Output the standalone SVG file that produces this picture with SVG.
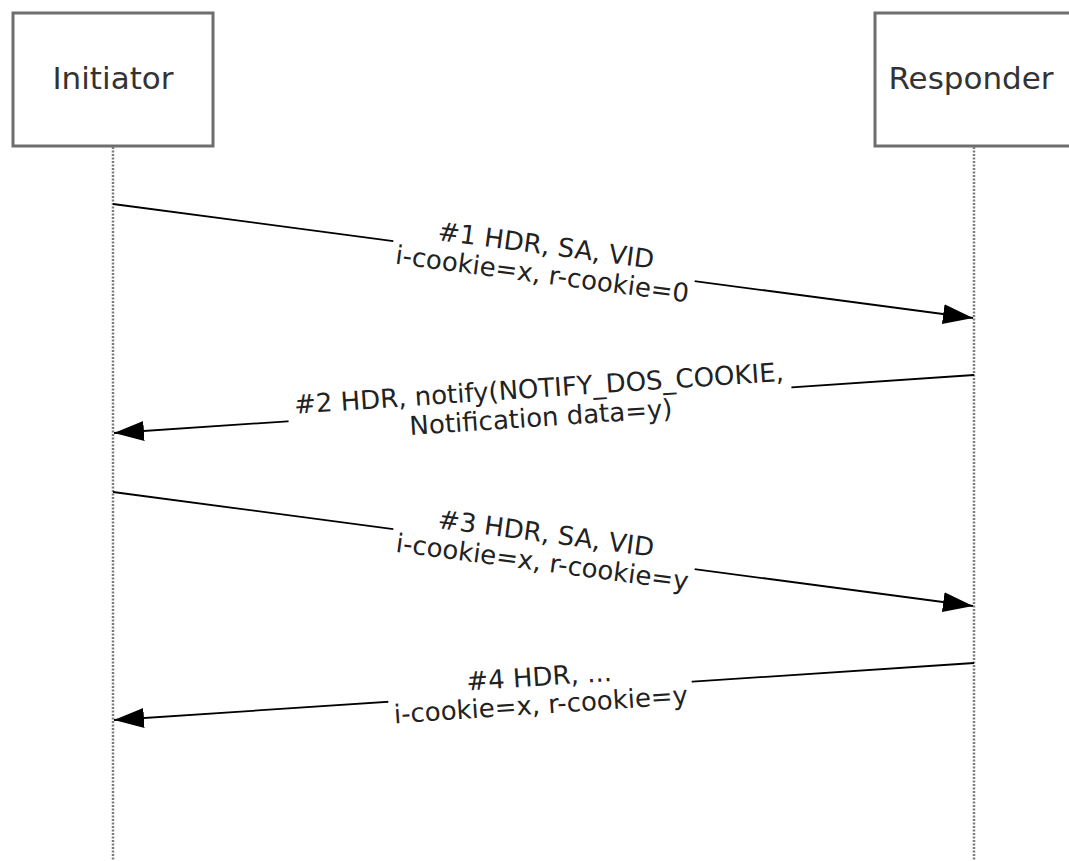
<svg xmlns="http://www.w3.org/2000/svg" width="1069" height="861" viewBox="0 0 1069 861">
<defs>
<style>
.box{fill:#fff;stroke:#6e6e6e;stroke-width:3}
.life{stroke:#7c7c7c;stroke-width:2.5;stroke-dasharray:2,1.5;fill:none}
.msg{stroke:#000;stroke-width:1.8;fill:none;marker-end:url(#ah)}
.bt{font-family:"DejaVu Sans",Verdana,sans-serif;font-size:31px;fill:#333;text-anchor:middle}
.lt{font-family:"DejaVu Sans",Verdana,sans-serif;font-size:26px;fill:#222;text-anchor:middle}
.bg{fill:#fff}
</style>
<marker id="ah" markerUnits="userSpaceOnUse" markerWidth="30" markerHeight="20" refX="30" refY="10" orient="auto">
<path d="M0,0 L30,10 L0,20 z" fill="#000"/>
</marker>
</defs>
<rect width="1069" height="861" fill="#fff"/>
<g id="initiator">
<rect class="box" x="13" y="13" width="200" height="133"/>
<text class="bt" x="113" y="89">Initiator</text>
<line class="life" x1="113" y1="147" x2="113" y2="861"/>
</g>
<g id="responder">
<rect class="box" x="875" y="13" width="200" height="133"/>
<text class="bt" x="971" y="89">Responder</text>
<line class="life" x1="974" y1="147" x2="974" y2="861"/>
</g>
<g id="connectors">
<g id="m1">
<line class="msg" x1="113" y1="204" x2="973" y2="318"/>
<g transform="translate(544,261.2) rotate(7.55)">
<rect class="bg" x="-152" y="-28" width="304" height="58"/>
<text class="lt" x="0" y="-7">#1 HDR, SA, VID</text>
<text class="lt" x="0" y="22">i-cookie=x, r-cookie=0</text>
</g>
</g>
<g id="m2">
<line class="msg" x1="974" y1="375" x2="114" y2="433"/>
<g transform="translate(540,404.3) rotate(-3.86)">
<rect class="bg" x="-252" y="-28" width="504" height="58"/>
<text class="lt" x="0" y="-7">#2 HDR, notify(NOTIFY_DOS_COOKIE,</text>
<text class="lt" x="0" y="22">Notification data=y)</text>
</g>
</g>
<g id="m3">
<line class="msg" x1="113" y1="492" x2="973" y2="606"/>
<g transform="translate(544,549.2) rotate(7.55)">
<rect class="bg" x="-152" y="-28" width="304" height="58"/>
<text class="lt" x="0" y="-7">#3 HDR, SA, VID</text>
<text class="lt" x="0" y="22">i-cookie=x, r-cookie=y</text>
</g>
</g>
<g id="m4">
<line class="msg" x1="974" y1="663" x2="114" y2="720"/>
<g transform="translate(540,691.7) rotate(-3.79)">
<rect class="bg" x="-152" y="-28" width="304" height="58"/>
<text class="lt" x="0" y="-6">#4 HDR, ...</text>
<text class="lt" x="0" y="22">i-cookie=x, r-cookie=y</text>
</g>
</g>
</g>
</svg>
